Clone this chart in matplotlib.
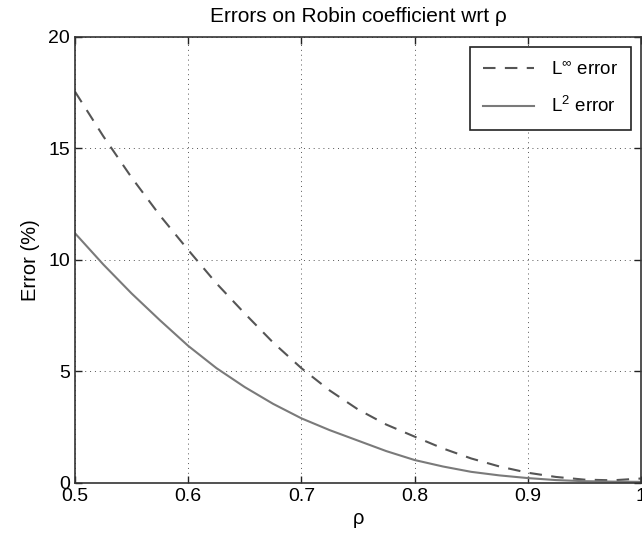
import matplotlib
matplotlib.use("Agg")
import matplotlib.pyplot as plt

plt.rcParams['font.family'] = ['Liberation Sans', 'DejaVu Sans']
plt.rcParams['mathtext.fontset'] = 'custom'
plt.rcParams['mathtext.rm'] = 'Liberation Sans'
plt.rcParams['mathtext.it'] = 'Liberation Sans'

# values
rho = [0.5, 0.525, 0.55, 0.575, 0.6, 0.625, 0.65, 0.675, 0.7, 0.725,
       0.75, 0.775, 0.8, 0.825, 0.85, 0.875, 0.9, 0.925, 0.95, 0.975, 1.0]
err_inf = [17.55, 15.55, 13.7, 12.0, 10.45, 8.95, 7.6, 6.3, 5.15, 4.15,
           3.3, 2.62, 2.08, 1.55, 1.1, 0.74, 0.46, 0.27, 0.15, 0.12, 0.2]
err_l2 = [11.2, 9.8, 8.5, 7.3, 6.15, 5.15, 4.3, 3.55, 2.9, 2.37,
          1.9, 1.43, 1.03, 0.74, 0.5, 0.34, 0.22, 0.13, 0.08, 0.06, 0.05]

xticks = [0.5, 0.6, 0.7, 0.8, 0.9, 1.0]
xticklabels = ['0.5', '0.6', '0.7', '0.8', '0.9', '1']
yticks = [0, 5, 10, 15, 20]

fig = plt.figure(figsize=(6.42, 5.37), dpi=100)
ax = fig.add_axes([0.1168, 0.1006, 0.8815, 0.8305])

ax.plot(rho, err_inf, color='#555555', lw=1.5, dashes=(6, 4.5),
        label=r'L$^{\infty}$ error')
ax.plot(rho, err_l2, color='#7a7a7a', lw=1.5, label=r'L$^{2}$ error')

ax.set_xlim(0.5, 1.0)
ax.set_ylim(0, 20)
ax.set_xticks(xticks)
ax.set_xticklabels(xticklabels)
ax.set_yticks(yticks)
ax.tick_params(direction='in', top=True, right=True, labelsize=14,
               length=5, width=1, color='#222222')
for s in ax.spines.values():
    s.set_color('#333333')
    s.set_linewidth(1.2)

ax.grid(True, linestyle=(0, (1, 4)), color='#555555', linewidth=0.7)

ax.set_title('Errors on Robin coefficient wrt ρ', fontsize=15, pad=11)
ax.set_xlabel('ρ', fontsize=14.5, labelpad=3)
ax.set_ylabel('Error (%)', fontsize=14.5, labelpad=6)

leg = ax.legend(loc='upper right', bbox_to_anchor=(0.983, 0.978), fontsize=13.5,
                fancybox=False, framealpha=1, edgecolor='#222222',
                handlelength=2.7, handletextpad=0.9, borderpad=0.72,
                labelspacing=0.95, borderaxespad=0)
leg.get_frame().set_linewidth(1.2)

fig.savefig('out.png', dpi=100)
